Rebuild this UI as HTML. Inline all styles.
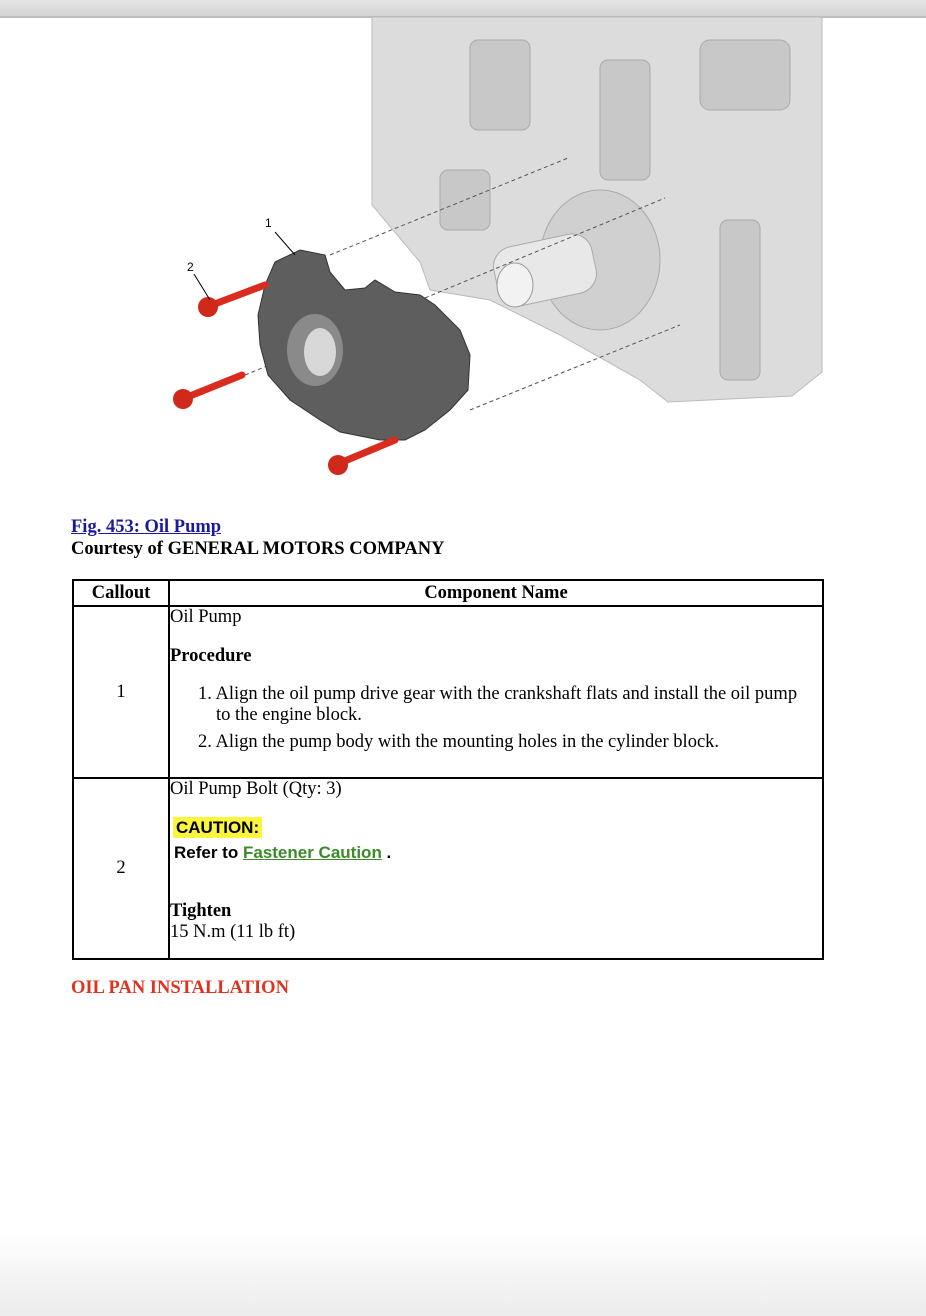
<!DOCTYPE html>
<html><head><style>
body{margin:0;width:926px;height:1316px;position:relative;background:#fff;font-family:"Liberation Serif",serif;overflow:hidden}
.topbar{position:absolute;left:0;top:0;width:926px;height:16px;background:linear-gradient(#e6e6e6,#d4d4d4);border-bottom:2px solid #bdbdbd}
.bottom{position:absolute;left:0;top:1230px;width:926px;height:86px;background:linear-gradient(#fff,#ececec)}
.t{position:absolute;font-size:18.5px;color:#000;white-space:nowrap}
table{position:absolute;left:72px;top:579px;width:752px;border-collapse:collapse;font-size:18.5px}
td,th{border:2px solid #000;padding:0;vertical-align:top}
</style></head><body>
<div class="topbar"></div>
<svg style="position:absolute;left:0;top:0" width="926" height="500">
<polygon points="372,17 822,17 822,372 792,396 668,402 640,380 560,335 490,300 430,290 420,262 372,205" fill="#dcdcdc" stroke="#bbb"/>
<g fill="#c8c8c8" stroke="#aaa">
<rect x="470" y="40" width="60" height="90" rx="8"/><rect x="600" y="60" width="50" height="120" rx="8"/>
<rect x="700" y="40" width="90" height="70" rx="10"/><rect x="720" y="220" width="40" height="160" rx="8"/>
<rect x="440" y="170" width="50" height="60" rx="8"/>
</g>
<ellipse cx="600" cy="260" rx="60" ry="70" fill="#d0d0d0" stroke="#aaa"/>
<rect x="495" y="240" width="100" height="60" rx="20" fill="#e8e8e8" stroke="#aaa" transform="rotate(-12 545 270)"/>
<ellipse cx="515" cy="285" rx="18" ry="22" fill="#f2f2f2" stroke="#999"/>
<g stroke="#555" stroke-dasharray="4,3" stroke-width="1">
<line x1="330" y1="255" x2="568" y2="158"/><line x1="425" y1="298" x2="665" y2="198"/>
<line x1="245" y1="375" x2="385" y2="318"/><line x1="470" y1="410" x2="680" y2="325"/>
</g>
<path d="M275,262 L300,250 L325,255 L330,272 L345,290 L365,288 L375,280 L395,292 L420,295 L435,305 L460,330 L470,355 L468,390 L450,410 L425,430 L405,440 L380,440 L340,432 L320,420 L290,400 L268,375 L260,345 L258,315 L265,285 Z" fill="#5e5e5e" stroke="#333"/>
<ellipse cx="315" cy="350" rx="28" ry="36" fill="#8a8a8a"/><ellipse cx="320" cy="352" rx="16" ry="24" fill="#d8d8d8"/>
<g stroke="#d92b1e" stroke-width="7" stroke-linecap="round">
<line x1="212" y1="305" x2="265" y2="285"/><line x1="185" y1="398" x2="242" y2="375"/><line x1="340" y1="463" x2="395" y2="440"/>
</g>
<g fill="#d0281b"><circle cx="208" cy="307" r="10"/><circle cx="183" cy="399" r="10"/><circle cx="338" cy="465" r="10"/></g>
<g stroke="#000" stroke-width="1"><line x1="275" y1="232" x2="295" y2="255"/><line x1="194" y1="274" x2="210" y2="300"/></g>
<text x="265" y="227" font-family="Liberation Sans" font-size="12">1</text>
<text x="187" y="271" font-family="Liberation Sans" font-size="12">2</text>
</svg>
<div class="t" style="left:71px;top:517px;color:#1a1aa0;font-weight:bold;text-decoration:underline">Fig. 453: Oil Pump</div>
<div class="t" style="left:71px;top:539px;font-weight:bold">Courtesy of GENERAL MOTORS COMPANY</div>
<table>
<tr style="height:26px"><th style="width:94px;vertical-align:middle">Callout</th><th style="vertical-align:middle">Component Name</th></tr>
<tr style="height:172px"><td style="text-align:center;vertical-align:middle">1</td><td>
<div style="margin-top:0px">Oil Pump</div>
<div style="font-weight:bold;margin-top:18px">Procedure</div>
<div style="margin-top:17px;padding-left:28px;line-height:21px">1. Align the oil pump drive gear with the crankshaft flats and install the oil pump<br><span style="padding-left:18px">to the engine block.</span></div>
<div style="margin-top:6px;padding-left:28px">2. Align the pump body with the mounting holes in the cylinder block.</div>
</td></tr>
<tr style="height:181px"><td style="text-align:center;vertical-align:middle">2</td><td>
<div style="margin-top:0px">Oil Pump Bolt (Qty: 3)</div>
<div style="margin-top:18px;margin-left:3px;font-family:'Liberation Sans',sans-serif;font-weight:bold;font-size:17px"><span style="background:#fbf53c;padding:1px 3px">CAUTION:</span></div>
<div style="margin-top:5px;margin-left:4px;font-family:'Liberation Sans',sans-serif;font-weight:bold;font-size:17px">Refer to <span style="color:#3a8a2a;text-decoration:underline">Fastener Caution</span> .</div>
<div style="font-weight:bold;margin-top:38px">Tighten</div>
<div>15 N.m (11 lb ft)</div>
</td></tr>
</table>
<div class="t" style="left:71px;top:978px;color:#e0321e;font-weight:bold">OIL PAN INSTALLATION</div>
<div class="bottom"></div>
</body></html>
